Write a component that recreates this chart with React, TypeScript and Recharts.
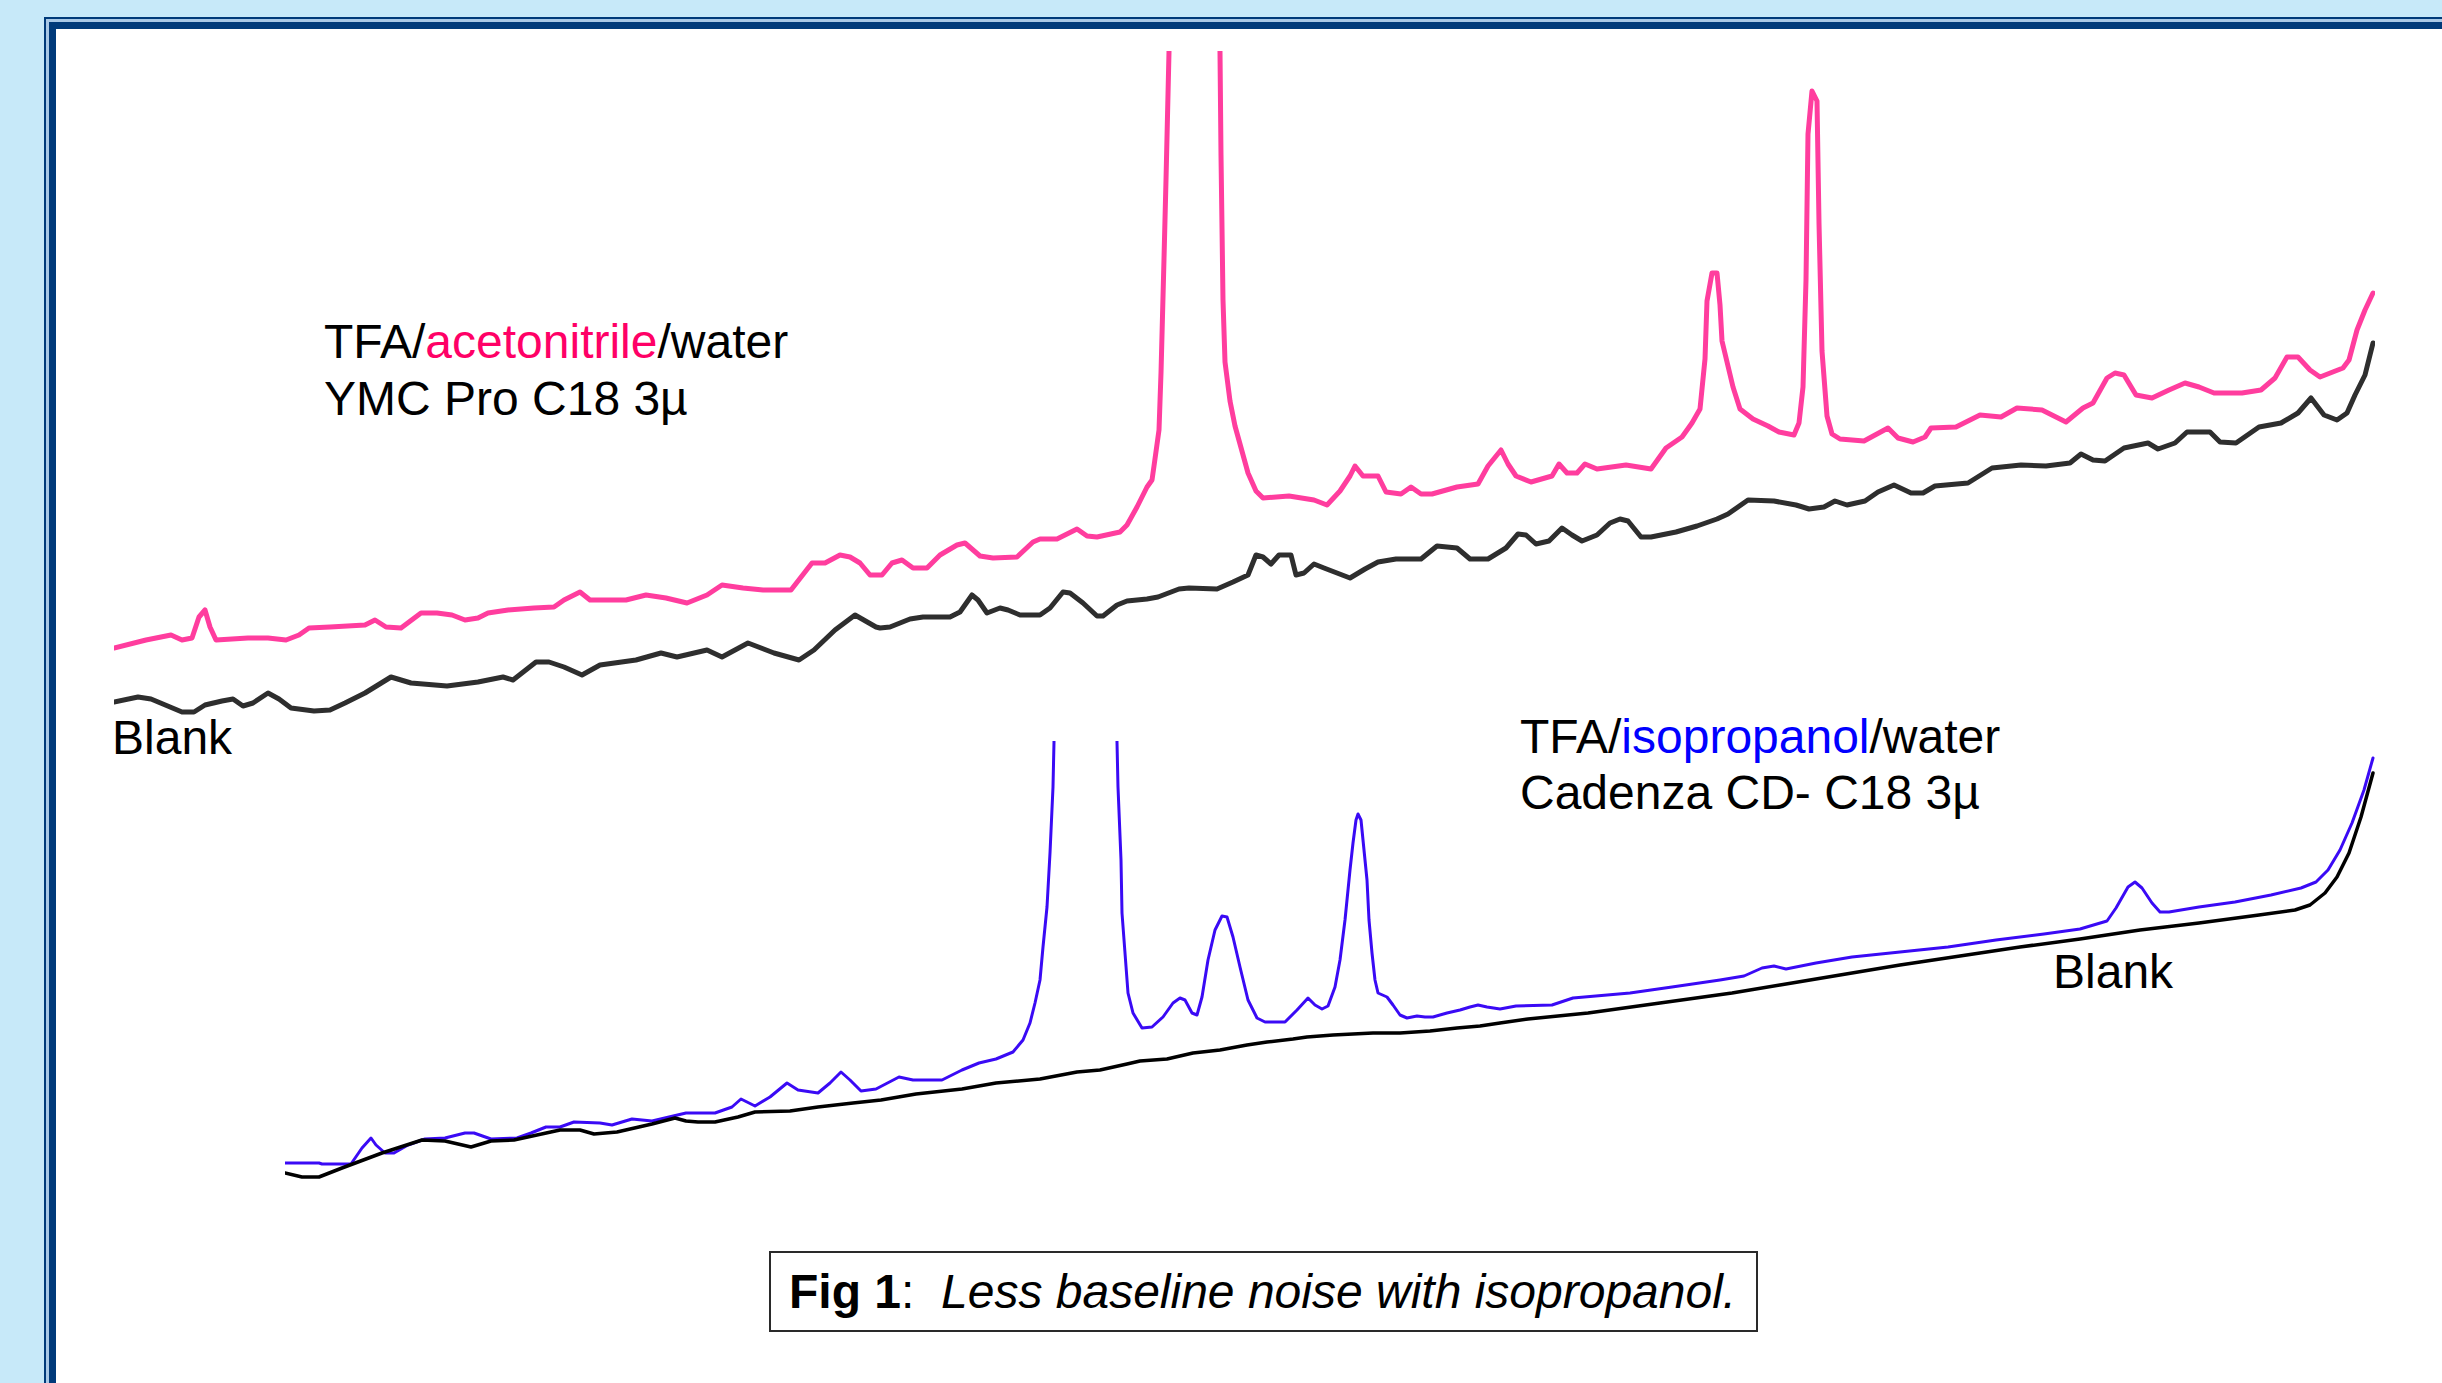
import React from 'react';
import { LineChart, Line, XAxis, YAxis } from 'recharts';

// ---------- Upper chromatograms: TFA / acetonitrile / water (YMC Pro C18 3µ) ----------
// [scan, signal] pairs
const acnSample: [number, number][] = [
  [0, 72], [32, 80], [57, 85], [68, 80], [78, 82], [85, 103], [91, 110], [96, 93], [102, 80], [134, 82],
  [154, 82], [172, 80], [185, 85], [195, 92], [216, 93], [251, 95], [261, 100], [272, 93], [287, 92], [307, 107],
  [323, 107], [338, 105], [351, 100], [364, 102], [374, 107], [394, 110], [420, 112], [440, 113], [450, 120], [466, 128],
  [476, 120], [512, 120], [532, 125], [552, 122], [573, 117], [593, 125], [608, 135], [629, 132], [649, 130], [677, 130],
  [698, 157], [711, 157], [726, 165], [736, 163], [746, 157], [756, 145], [768, 145], [778, 157], [788, 160], [799, 152],
  [813, 152], [826, 165], [843, 175], [851, 177], [866, 164], [879, 162], [903, 163], [919, 178], [926, 181], [943, 181],
  [963, 191], [973, 184], [983, 183], [1006, 188], [1013, 195], [1023, 213], [1033, 233], [1038, 240], [1040, 254], [1045, 290],
  [1047, 347], [1050, 461], [1052, 540], [1055, 668], [1060, 1600], [1080, 2200], [1100, 1600], [1106, 668], [1107, 565], [1109, 420],
  [1111, 358], [1116, 319], [1121, 294], [1126, 276], [1134, 247], [1142, 229], [1149, 222], [1175, 224], [1200, 220], [1213, 215],
  [1226, 229], [1236, 244], [1241, 254], [1249, 244], [1264, 244], [1272, 228], [1287, 226], [1297, 233], [1307, 226], [1318, 226],
  [1343, 233], [1364, 236], [1374, 254], [1387, 270], [1394, 256], [1402, 244], [1417, 238], [1438, 244], [1445, 256], [1453, 247],
  [1463, 247], [1471, 256], [1483, 251], [1512, 255], [1537, 251], [1552, 272], [1568, 283], [1578, 297], [1586, 311], [1591, 361],
  [1593, 419], [1598, 447], [1603, 447], [1606, 415], [1608, 379], [1619, 333], [1626, 311], [1639, 301], [1654, 294], [1665, 288],
  [1680, 285], [1685, 297], [1689, 333], [1692, 440], [1694, 586], [1698, 629], [1703, 619], [1705, 497], [1708, 369], [1713, 304],
  [1718, 286], [1726, 281], [1750, 279], [1774, 292], [1784, 282], [1799, 278], [1811, 283], [1817, 292], [1842, 293], [1866, 305],
  [1887, 303], [1903, 312], [1928, 310], [1952, 298], [1969, 312], [1979, 317], [1993, 342], [2001, 347], [2010, 345], [2022, 325],
  [2038, 322], [2055, 330], [2071, 337], [2085, 333], [2100, 327], [2128, 327], [2147, 330], [2161, 342], [2173, 363], [2184, 363],
  [2196, 350], [2206, 343], [2229, 352], [2235, 360], [2243, 390], [2251, 410], [2259, 427],
];

const acnBlank: [number, number][] = [
  [0, 18], [24, 23], [37, 21], [68, 8], [80, 8], [91, 15], [108, 19], [119, 21], [129, 14], [139, 17],
  [154, 27], [165, 21], [177, 12], [200, 9], [216, 10], [231, 17], [251, 27], [277, 43], [297, 37], [333, 34],
  [364, 38], [389, 43], [399, 40], [422, 58], [435, 58], [450, 53], [468, 45], [486, 55], [522, 60], [547, 67],
  [563, 63], [593, 70], [608, 63], [634, 77], [660, 67], [685, 60], [700, 70], [721, 90], [741, 105], [762, 93],
  [766, 92], [776, 93], [796, 101], [809, 103], [836, 103], [846, 108], [858, 125], [864, 120], [873, 107], [886, 112],
  [894, 110], [906, 105], [926, 105], [936, 112], [949, 128], [956, 127], [969, 117], [983, 104], [989, 104], [1003, 115],
  [1013, 119], [1033, 121], [1044, 123], [1065, 131], [1075, 132], [1103, 131], [1119, 138], [1134, 145], [1142, 165], [1149, 163],
  [1157, 156], [1165, 165], [1177, 165], [1182, 145], [1190, 147], [1200, 156], [1210, 152], [1223, 147], [1236, 142], [1251, 151],
  [1264, 158], [1282, 161], [1307, 161], [1323, 174], [1343, 172], [1356, 161], [1374, 161], [1392, 172], [1404, 186], [1412, 185],
  [1422, 176], [1435, 179], [1448, 192], [1458, 185], [1468, 179], [1483, 185], [1496, 197], [1506, 201], [1514, 199], [1527, 183],
  [1537, 183], [1562, 188], [1583, 194], [1603, 201], [1614, 206], [1634, 220], [1660, 219], [1682, 215], [1695, 211], [1710, 213],
  [1721, 219], [1733, 215], [1751, 219], [1764, 228], [1780, 235], [1797, 227], [1809, 227], [1821, 234], [1854, 237], [1878, 252],
  [1907, 255], [1932, 254], [1956, 257], [1967, 266], [1979, 260], [1991, 259], [2010, 272], [2034, 277], [2044, 271], [2061, 277],
  [2073, 288], [2096, 288], [2106, 278], [2122, 277], [2145, 293], [2167, 297], [2184, 307], [2197, 322], [2210, 305], [2223, 300],
  [2233, 307], [2241, 325], [2251, 345], [2259, 377],
];

// ---------- Lower chromatograms: TFA / isopropanol / water (Cadenza CD-C18 3µ) ----------
const ipaSample: [number, number][] = [
  [0, 22], [34, 22], [37, 21], [66, 21], [77, 37], [86, 47], [91, 40], [100, 32], [109, 32], [123, 40],
  [140, 46], [160, 47], [180, 52], [189, 52], [206, 46], [232, 47], [246, 52], [261, 58], [275, 58], [289, 63],
  [315, 62], [327, 60], [347, 66], [367, 64], [384, 68], [401, 72], [430, 72], [447, 78], [456, 86], [470, 79],
  [485, 88], [502, 102], [513, 95], [533, 92], [545, 102], [556, 113], [565, 105], [576, 94], [591, 96], [614, 108],
  [628, 105], [657, 105], [677, 115], [694, 122], [711, 126], [728, 133], [738, 145], [745, 162], [750, 182], [755, 205],
  [758, 238], [762, 278], [765, 332], [768, 398], [769, 443], [772, 900], [800, 1300], [828, 900], [832, 443], [833, 398],
  [836, 325], [837, 272], [840, 232], [843, 192], [848, 172], [857, 157], [867, 158], [878, 168], [888, 182], [895, 187],
  [900, 185], [907, 172], [912, 170], [917, 188], [923, 225], [930, 255], [937, 269], [942, 268], [948, 248], [955, 218],
  [963, 185], [972, 167], [980, 163], [1000, 163], [1012, 175], [1023, 187], [1030, 180], [1037, 176], [1043, 179], [1050, 198],
  [1055, 225], [1060, 265], [1065, 315], [1068, 342], [1071, 365], [1073, 371], [1076, 365], [1079, 335], [1082, 305], [1084, 265],
  [1087, 232], [1090, 205], [1093, 192], [1102, 188], [1108, 180], [1115, 170], [1122, 167], [1132, 169], [1140, 168], [1148, 168],
  [1162, 172], [1175, 175], [1185, 178], [1193, 180], [1202, 178], [1215, 176], [1231, 179], [1267, 180], [1288, 187], [1345, 192],
  [1387, 198], [1435, 205], [1459, 209], [1477, 217], [1489, 219], [1501, 216], [1531, 222], [1567, 228], [1615, 233], [1663, 238],
  [1711, 245], [1759, 251], [1795, 256], [1822, 264], [1831, 277], [1843, 298], [1850, 303], [1857, 297], [1867, 282], [1875, 273],
  [1884, 273], [1914, 278], [1950, 283], [1986, 290], [2016, 297], [2031, 303], [2043, 315], [2055, 335], [2067, 362], [2079, 395],
  [2088, 427],
];

const ipaBlank: [number, number][] = [
  [0, 12], [17, 8], [34, 8], [57, 17], [97, 32], [137, 45], [160, 44], [186, 38], [206, 44], [229, 45],
  [275, 55], [295, 55], [309, 51], [332, 53], [367, 61], [390, 67], [401, 64], [413, 63], [430, 63], [453, 68],
  [470, 73], [505, 74], [533, 78], [568, 82], [596, 85], [631, 91], [677, 96], [711, 102], [755, 106], [792, 113],
  [815, 115], [842, 121], [855, 124], [882, 126], [908, 132], [935, 135], [962, 140], [982, 143], [1008, 146], [1022, 148],
  [1048, 150], [1088, 152], [1115, 152], [1145, 154], [1172, 157], [1195, 159], [1215, 162], [1243, 166], [1303, 172], [1375, 182],
  [1447, 192], [1495, 200], [1555, 210], [1615, 220], [1675, 229], [1735, 238], [1795, 246], [1855, 255], [1914, 262], [1974, 270],
  [2010, 275], [2025, 280], [2040, 292], [2052, 308], [2064, 332], [2076, 368], [2088, 412],
];

const upperScanRange: [number, number] = [0, 2261];
const upperSignalRange: [number, number] = [0, 669];
const lowerScanRange: [number, number] = [0, 2090];
const lowerSignalRange: [number, number] = [0, 444];

const FONT = "'Liberation Sans', Arial, Helvetica, sans-serif";
const NAVY = '#003A7A';

const toRows = (pts: [number, number][]) => pts.map(([scan, signal]) => ({ scan, signal }));

type Series = { name: string; points: [number, number][]; color: string; width: number };

function Chromatogram(props: {
  width: number;
  height: number;
  xDomain: [number, number];
  yDomain: [number, number];
  series: Series[];
}) {
  const { width, height, xDomain, yDomain, series } = props;
  return (
    <LineChart width={width} height={height} margin={{ top: 0, right: 0, bottom: 0, left: 0 }}>
      <XAxis type="number" dataKey="scan" domain={xDomain} hide allowDataOverflow />
      <YAxis type="number" dataKey="signal" domain={yDomain} hide allowDataOverflow />
      {series.map((s) => (
        <Line
          key={s.name}
          name={s.name}
          data={toRows(s.points)}
          dataKey="signal"
          type="linear"
          stroke={s.color}
          strokeWidth={s.width}
          strokeLinejoin="round"
          strokeLinecap="round"
          dot={false}
          activeDot={false}
          isAnimationActive={false}
        />
      ))}
    </LineChart>
  );
}

export default function App() {
  return (
    <div
      style={{
        position: 'absolute',
        left: 0,
        top: 0,
        width: 2442,
        height: 1383,
        overflow: 'hidden',
        background: '#C7E9F9',
        fontFamily: FONT,
      }}
    >
      {/* frame */}
      <div
        style={{
          position: 'absolute',
          left: 44,
          top: 17,
          width: 2460,
          height: 1420,
          boxSizing: 'border-box',
          border: `2px solid ${NAVY}`,
          background: '#A8C8E6',
        }}
      />
      <div
        style={{
          position: 'absolute',
          left: 49,
          top: 22,
          width: 2450,
          height: 1410,
          boxSizing: 'border-box',
          border: `7px solid ${NAVY}`,
          background: '#FFFFFF',
        }}
      />

      <div style={{ position: 'absolute', left: 114, top: 51 }}>
        <Chromatogram
          width={2261}
          height={669}
          xDomain={upperScanRange}
          yDomain={upperSignalRange}
          series={[
            { name: 'Blank (acetonitrile)', points: acnBlank, color: '#2E2E2E', width: 5 },
            { name: 'TFA/acetonitrile/water', points: acnSample, color: '#FF3D9E', width: 5 },
          ]}
        />
      </div>

      <div style={{ position: 'absolute', left: 285, top: 741 }}>
        <Chromatogram
          width={2090}
          height={444}
          xDomain={lowerScanRange}
          yDomain={lowerSignalRange}
          series={[
            { name: 'TFA/isopropanol/water', points: ipaSample, color: '#3A0AF5', width: 3 },
            { name: 'Blank (isopropanol)', points: ipaBlank, color: '#000000', width: 3.5 },
          ]}
        />
      </div>

      <svg
        width={2442}
        height={1383}
        style={{ position: 'absolute', left: 0, top: 0, pointerEvents: 'none' }}
        fontFamily={FONT}
      >
        <text x={324} y={358} fontSize={48} fill="#000">
          TFA/<tspan fill="#FF0066">acetonitrile</tspan>/water
        </text>
        <text x={324} y={415} fontSize={48} fill="#000">
          YMC Pro C18 3µ
        </text>
        <text x={112} y={754} fontSize={48} fill="#000">
          Blank
        </text>

        <text x={1520} y={753} fontSize={48} fill="#000">
          TFA/<tspan fill="#0000FF">isopropanol</tspan>/water
        </text>
        <text x={1520} y={809} fontSize={48} fill="#000">
          Cadenza CD- C18 3µ
        </text>
        <text x={2053} y={988} fontSize={48} fill="#000">
          Blank
        </text>

        <rect x={770} y={1252} width={987} height={79} fill="#FFFFFF" stroke="#2A2A2A" strokeWidth={2} />
        <text x={789} y={1308} fontSize={48} fill="#000" style={{ whiteSpace: 'pre' }}>
          <tspan fontWeight="bold">Fig 1</tspan>
          <tspan>:  </tspan>
          <tspan fontStyle="italic">Less baseline noise with isopropanol.</tspan>
        </text>
      </svg>
    </div>
  );
}
